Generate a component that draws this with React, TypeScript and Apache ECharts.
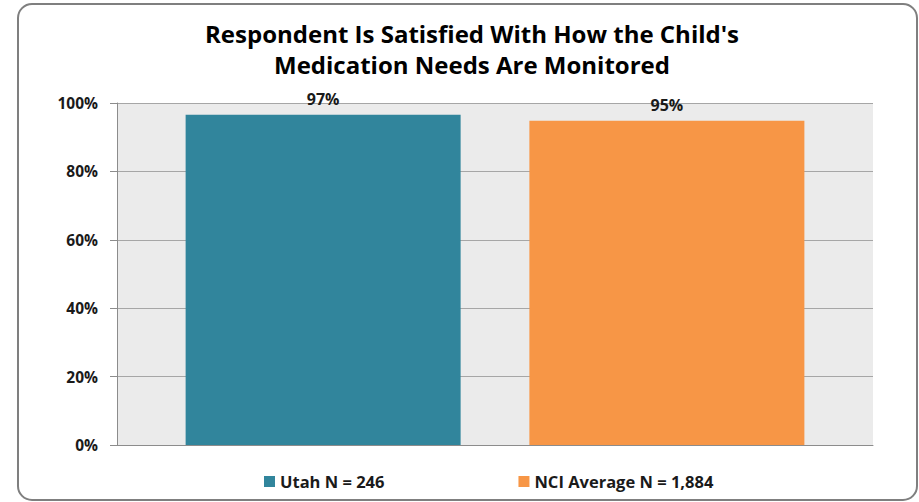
import React, { useEffect, useRef } from "react";
import * as echarts from "echarts";

const categories = ["Respondent Is Satisfied"];
const seriesNames = ["Utah N = 246", "NCI Average N = 1,884"];
const utahValues = [96.6];
const nciValues = [94.8];
const seriesColors = ["#31859C", "#F79646"];
const yTicks = [0, 20, 40, 60, 80, 100];

const FONT = "'Open Sans', 'Noto Sans', sans-serif";

export default function App() {
  const ref = useRef<HTMLDivElement>(null);
  useEffect(() => {
    document.body.style.margin = "0";
    const chart = echarts.init(ref.current!, null, { renderer: "svg" });
    const labelFmt = (p: any) => Math.round(p.value) + "%";
    const barLabel = {
      show: true,
      position: "top",
      distance: 8,
      formatter: labelFmt,
      fontFamily: FONT,
      fontWeight: "bold",
      fontSize: 16,
      color: "#1A1A1A",
    };
    chart.setOption({
      animation: false,
      backgroundColor: "#FFFFFF",
      textStyle: { fontFamily: FONT },
      title: {
        text: "Respondent Is Satisfied With How the Child's\nMedication Needs Are Monitored",
        left: 467,
        textAlign: "center",
        top: 13,
        textStyle: {
          fontFamily: FONT,
          fontWeight: "bold",
          fontSize: 24,
          lineHeight: 31,
          color: "#000000",
        },
      },
      graphic: [
        {
          type: "rect",
          shape: { x: 18, y: 4, width: 899, height: 496, r: 14 },
          style: { fill: "none", stroke: "#7F7F7F", lineWidth: 2 },
          z: 100,
          silent: true,
        },
      ],
      legend: {
        left: 259,
        top: 468,
        itemWidth: 11,
        itemHeight: 11,
        itemGap: 134,
        icon: "rect",
        textStyle: {
          fontFamily: FONT,
          fontWeight: "bold",
          fontSize: 16.5,
          color: "#1A1A1A",
        },
        data: seriesNames,
      },
      grid: {
        left: 117,
        right: 46,
        top: 103,
        bottom: 57,
        show: true,
        backgroundColor: "#EBEBEB",
        borderWidth: 0,
      },
      xAxis: {
        type: "category",
        data: categories,
        axisLine: { show: true, lineStyle: { color: "#8C8C8C", width: 1 } },
        axisTick: { show: false },
        axisLabel: { show: false },
      },
      yAxis: {
        type: "value",
        min: yTicks[0],
        max: yTicks[yTicks.length - 1],
        interval: 20,
        axisLine: { show: true, lineStyle: { color: "#8C8C8C", width: 1 } },
        axisTick: { show: true, length: 7, lineStyle: { color: "#8C8C8C" } },
        splitLine: { show: true, lineStyle: { color: "#A6A6A6", width: 1 } },
        axisLabel: {
          formatter: (v: number) => v + "%",
          fontFamily: FONT,
          fontWeight: "bold",
          fontSize: 15.5,
          color: "#1A1A1A",
          margin: 19,
        },
      },
      series: [
        {
          name: seriesNames[0],
          type: "bar",
          data: utahValues,
          itemStyle: { color: seriesColors[0] },
          barWidth: 275,
          barGap: "25%",
          label: barLabel,
        },
        {
          name: seriesNames[1],
          type: "bar",
          data: nciValues,
          itemStyle: { color: seriesColors[1] },
          barWidth: 275,
          barGap: "25%",
          label: barLabel,
        },
      ],
    });
    return () => chart.dispose();
  }, []);
  return <div ref={ref} style={{ width: 919, height: 502 }} />;
}
